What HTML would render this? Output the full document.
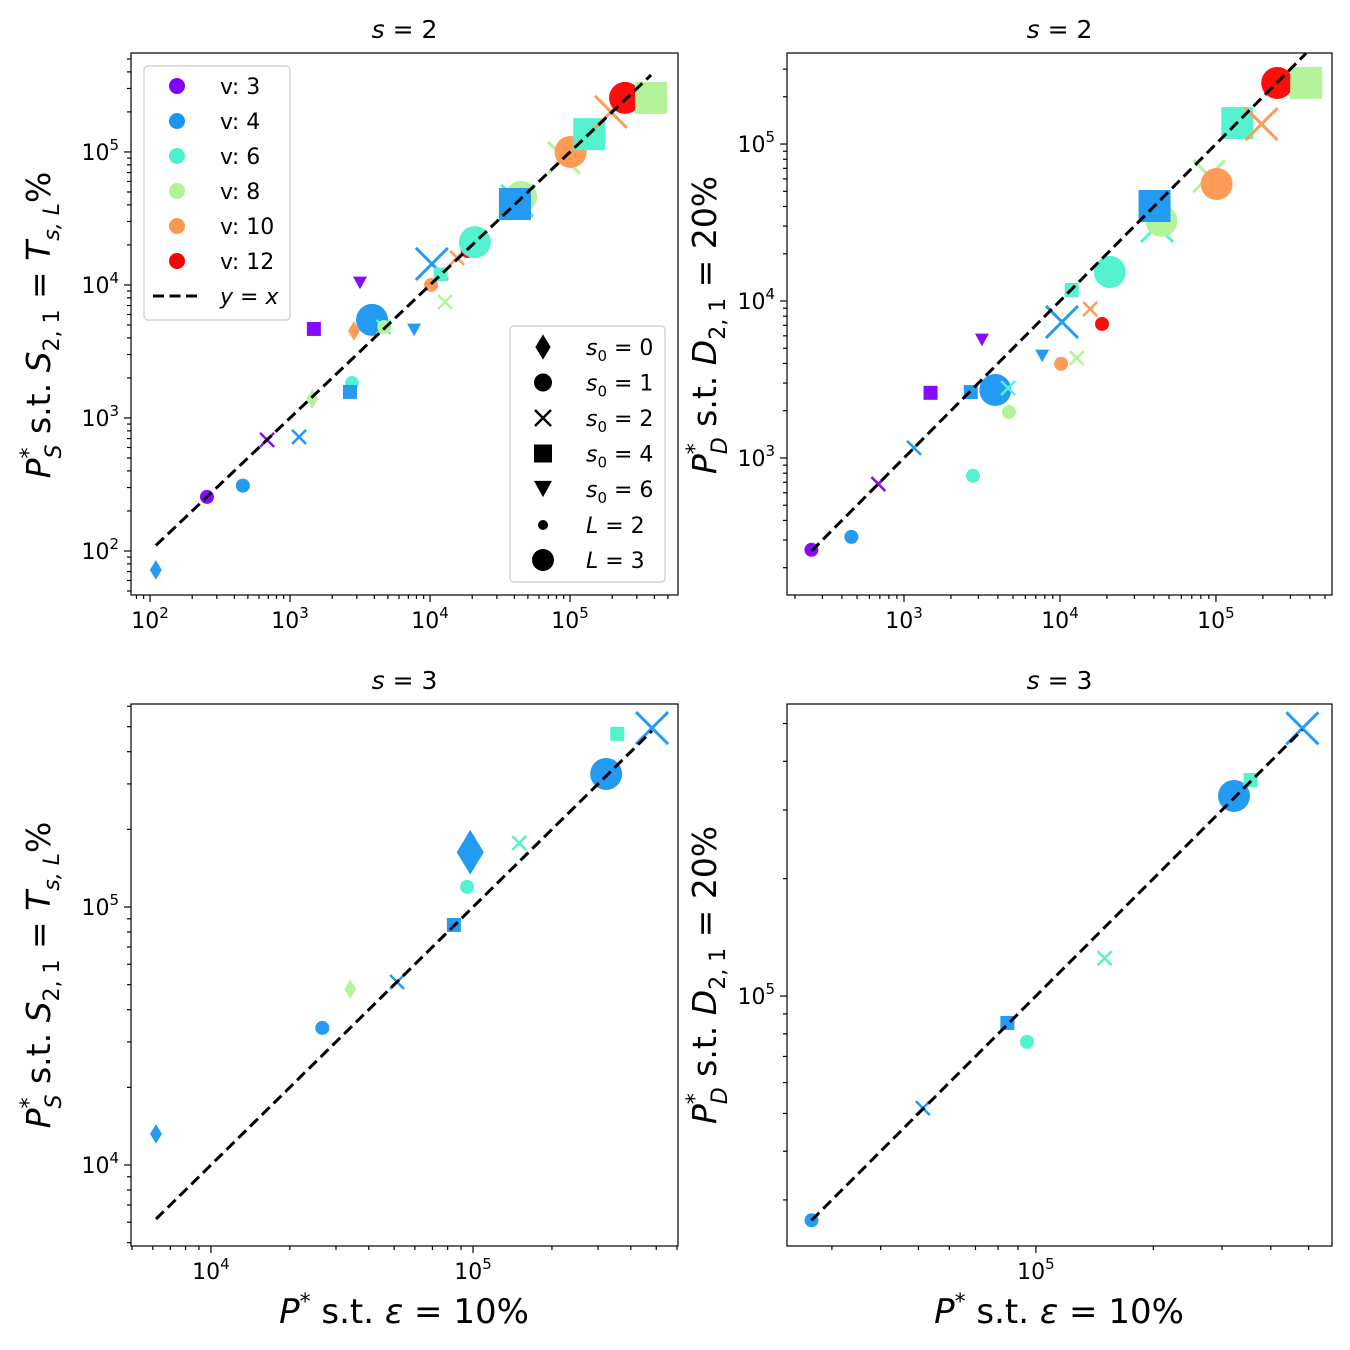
<!DOCTYPE html>
<html><head><meta charset="utf-8">
<style>
html,body{margin:0;padding:0;background:#fff;}
svg{display:block;font-family:"DejaVu Sans","Liberation Sans",sans-serif;}
</style></head>
<body>
<svg id="chart" width="1350" height="1350" viewBox="0 0 1350 1350" xmlns="http://www.w3.org/2000/svg">
</svg>
<script>
// ---- data: s = 2 ----
const s2_v      = [4,3,4,3,4,8,6,4,3,10,3,4,6,8,4,10,4,6,10,8,12,6,6,8,4,8,10,6,10,12,8];
const s2_shape  = ['d','o','o','x','x','d','o','s','s','d','v','o','x','o','v','o','x','s','x','x','o','o','x','o','s','x','o','s','x','o','s'];
const s2_L      = [2,2,2,2,2,2,2,2,2,2,2,3,2,2,2,2,3,2,2,2,2,3,3,3,3,3,3,3,3,3,3];
const s2_x      = [110,255,460,685,1160,1440,2770,2680,1480,2860,3160,3850,4650,4710,7690,10170,10300,11900,15600,12800,18600,20900,41900,44700,40400,90600,101000,137000,196000,247000,379000];
const s2_yS     = [72,255,310,685,720,1390,1830,1570,4670,4510,10350,5460,4830,4830,4590,10000,14400,12000,16000,7450,18000,21000,43000,45900,40600,90200,100000,136000,200000,255000,255000];
const s2_yD     = [null,260,314,682,1160,null,770,2630,2600,null,5650,2710,2790,1960,4470,3980,7350,11750,8900,4330,7140,15300,30000,32400,40300,62500,55600,136000,134000,245000,245000];
// ---- data: s = 3 ----
const s3_v      = [4,4,8,4,4,6,4,6,4,6,4];
const s3_shape  = ['d','o','d','x','s','o','d','x','o','s','x'];
const s3_L      = [2,2,2,2,2,2,3,2,3,2,3];
const s3_x      = [6170,26600,34000,51300,84500,94900,97600,150000,322000,355000,482000];
const s3_yS     = [13200,34000,48100,51200,85200,119700,163000,177000,328000,469000,494000];
const s3_yD     = [null,26600,null,51600,85300,76300,null,125000,326000,358000,486000];
// legend
const vLevels   = [3,4,6,8,10,12];
const vColors   = ['#8000ff','#1996f3','#4cf2ce','#b2f396','#ff964f','#ff0000'];

const NS='http://www.w3.org/2000/svg';
const svg=document.getElementById('chart');
function mk(tag,attrs,parent){const e=document.createElementNS(NS,tag);for(const k in attrs)e.setAttribute(k,attrs[k]);(parent||svg).appendChild(e);return e;}
function colorOf(v){return vColors[vLevels.indexOf(v)];}

const panels=[
 {name:'panel-s2-S',px0:131,px1:678,py0:53,py1:595,lx0:1.864,lx1:5.771,ly0:1.669,ly1:5.744,xs:s2_x,ys:s2_yS,vs:s2_v,sh:s2_shape,Ls:s2_L,title:'2'},
 {name:'panel-s2-D',px0:787,px1:1332,py0:53,py1:595,lx0:2.25,lx1:5.744,ly0:2.127,ly1:5.58,xs:s2_x,ys:s2_yD,vs:s2_v,sh:s2_shape,Ls:s2_L,title:'2'},
 {name:'panel-s3-S',px0:131,px1:678,py0:704,py1:1246,lx0:3.695,lx1:5.782,ly0:3.686,ly1:5.787,xs:s3_x,ys:s3_yS,vs:s3_v,sh:s3_shape,Ls:s3_L,title:'3'},
 {name:'panel-s3-D',px0:787,px1:1332,py0:704,py1:1246,lx0:4.362,lx1:5.759,ly0:4.359,ly1:5.749,xs:s3_x,ys:s3_yD,vs:s3_v,sh:s3_shape,Ls:s3_L,title:'3'}
];

function drawMarker(g,shape,cx,cy,r,color){
  let e;
  if(shape==='o'){e=mk('circle',{cx:cx,cy:cy,r:r,fill:color},g);}
  else if(shape==='s'){e=mk('rect',{x:cx-r,y:cy-r,width:2*r,height:2*r,fill:color},g);}
  else if(shape==='d'){const w=r*0.85,h=r*1.4;e=mk('polygon',{points:`${cx},${cy-h} ${cx+w},${cy} ${cx},${cy+h} ${cx-w},${cy}`,fill:color},g);}
  else if(shape==='v'){const h=r*0.9;e=mk('polygon',{points:`${cx-r},${cy-h} ${cx+r},${cy-h} ${cx},${cy+h}`,fill:color},g);}
  else if(shape==='x'){e=mk('path',{d:`M${cx-r},${cy-r}L${cx+r},${cy+r}M${cx-r},${cy+r}L${cx+r},${cy-r}`,stroke:color,'stroke-width':r>10?3:2.5,fill:'none'},g);}
  return e;
}

panels.forEach((p)=>{
  const g=mk('g',{});
  
  
  const X=v=>p.px0+(Math.log10(v)-p.lx0)/(p.lx1-p.lx0)*(p.px1-p.px0);
  const Y=v=>p.py1-(Math.log10(v)-p.ly0)/(p.ly1-p.ly0)*(p.py1-p.py0);
  const t=mk('text',{x:(p.px0+p.px1)/2,y:p.py0-15,'text-anchor':'middle','font-size':25},g);
  t.innerHTML='<tspan font-style="italic">s</tspan> = '+p.title;
  
  
  const tg=mk('g',{stroke:'#000','stroke-width':1.2},g);
  for(let d=Math.floor(p.lx0);d<=Math.ceil(p.lx1);d++){
    for(let m=1;m<10;m++){
      const lv=d+Math.log10(m);
      if(lv<p.lx0||lv>p.lx1)continue;
      const x=X(Math.pow(10,lv));const len=m===1?7:4;
      mk('line',{x1:x,x2:x,y1:p.py1,y2:p.py1+len},tg);
      if(m===1){const tl=mk('text',{x:x,y:p.py1+33,'text-anchor':'middle','font-size':22,stroke:'none'},g);
        tl.innerHTML='10<tspan font-size="15" dy="-10">'+d+'</tspan>';
        
        }
    }
  }
  for(let d=Math.floor(p.ly0);d<=Math.ceil(p.ly1);d++){
    for(let m=1;m<10;m++){
      const lv=d+Math.log10(m);
      if(lv<p.ly0||lv>p.ly1)continue;
      const y=Y(Math.pow(10,lv));const len=m===1?7:4;
      mk('line',{x1:p.px0,x2:p.px0-len,y1:y,y2:y},tg);
      if(m===1){const tl=mk('text',{x:p.px0-12,y:y+8,'text-anchor':'end','font-size':22,stroke:'none'},g);
        tl.innerHTML='10<tspan font-size="15" dy="-10">'+d+'</tspan>';
        
        }
    }
  }
  const idx=[];for(let i=0;i<p.xs.length;i++){if(p.ys[i]!=null)idx.push(i);}
  let mn=Infinity,mx=-Infinity;idx.forEach(i=>{mn=Math.min(mn,p.xs[i]);mx=Math.max(mx,p.xs[i]);});
  const pg=mk('g',{opacity:0.95},g);
  idx.forEach(i=>{
    const r=p.Ls[i]===3?16:7;
    const e=drawMarker(pg,p.sh[i],X(p.xs[i]),Y(p.ys[i]),r,colorOf(p.vs[i]));
    
    
  });
  const ln=mk('line',{x1:X(mn),y1:Y(mn),x2:X(mx),y2:Y(mx),stroke:'#000','stroke-width':3,'stroke-dasharray':'11,5.5'},g);
  
  
  const fr=mk('rect',{x:p.px0,y:p.py0,width:p.px1-p.px0,height:p.py1-p.py0,fill:'none',stroke:'#000','stroke-width':1.2},g);
  
  
});

function addText(html,attrs,name){const e=mk('text',attrs);e.innerHTML=html;return e;}
const ylabS='<tspan font-style="italic">P</tspan><tspan font-size="22" dy="-14">*</tspan><tspan font-size="22" font-style="italic" dx="-11" dy="25">S</tspan><tspan dy="-11"> s.t. </tspan><tspan font-style="italic">S</tspan><tspan font-size="22" dy="9">2, 1</tspan><tspan dy="-9"> = </tspan><tspan font-style="italic">T</tspan><tspan font-size="22" font-style="italic" dy="9">s, L</tspan><tspan dy="-9">%</tspan>';
const ylabD='<tspan font-style="italic">P</tspan><tspan font-size="22" dy="-14">*</tspan><tspan font-size="22" font-style="italic" dx="-11" dy="25">D</tspan><tspan dy="-11"> s.t. </tspan><tspan font-style="italic">D</tspan><tspan font-size="22" dy="9">2, 1</tspan><tspan dy="-9"> = 20%</tspan>';
addText(ylabS,{x:0,y:0,transform:'translate(50,325) rotate(-90)','text-anchor':'middle','font-size':33},'y-axis-title-top-left');
addText(ylabD,{x:0,y:0,transform:'translate(716,325) rotate(-90)','text-anchor':'middle','font-size':33},'y-axis-title-top-right');
addText(ylabS,{x:0,y:0,transform:'translate(50,975) rotate(-90)','text-anchor':'middle','font-size':33},'y-axis-title-bottom-left');
addText(ylabD,{x:0,y:0,transform:'translate(716,975) rotate(-90)','text-anchor':'middle','font-size':33},'y-axis-title-bottom-right');
const xlab='<tspan font-style="italic">P</tspan><tspan font-size="22" dy="-14">*</tspan><tspan dy="14"> s.t. </tspan><tspan font-style="italic">ε</tspan> = 10%';
addText(xlab,{x:404,y:1323,'text-anchor':'middle','font-size':34},'x-axis-title-left');
addText(xlab,{x:1059,y:1323,'text-anchor':'middle','font-size':34},'x-axis-title-right');

const lg=mk('g',{});


mk('rect',{x:144,y:66,width:146,height:254,rx:4,fill:'#fff','fill-opacity':0.8,stroke:'#ccc','stroke-width':1.2},lg);
vLevels.forEach((v,i)=>{
  const y=86+i*35;
  const c=mk('circle',{cx:177,cy:y,r:8,fill:vColors[i]},lg);
  
  
  const t=mk('text',{x:220,y:y+8,'font-size':22},lg);t.textContent='v: '+v;
  
  
});
mk('line',{x1:153,x2:202,y1:296,y2:296,stroke:'#000','stroke-width':3,'stroke-dasharray':'11,5.5'},lg);
const ty=mk('text',{x:220,y:304,'font-size':22,'font-style':'italic'},lg);ty.textContent='y = x';

const sg=mk('g',{});


mk('rect',{x:510,y:326,width:155,height:256,rx:4,fill:'#fff','fill-opacity':0.8,stroke:'#ccc','stroke-width':1.2},sg);
const shapeItems=[['d','0'],['o','1'],['x','2'],['s','4'],['v','6']];
shapeItems.forEach((it,i)=>{
  const y=347+i*35.5;
  drawMarker(sg,it[0],543,y,it[0]==='o'?9:(it[0]==='x'?8:9),'#000');
  const t=mk('text',{x:586,y:y+8,'font-size':22},sg);
  t.innerHTML='<tspan font-style="italic">s</tspan><tspan font-size="15" dy="6">0</tspan><tspan dy="-6"> = '+it[1]+'</tspan>';
  
  
});
mk('circle',{cx:543,cy:525,r:5,fill:'#000'},sg);
mk('circle',{cx:543,cy:560,r:11,fill:'#000'},sg);
const tl2=mk('text',{x:586,y:533,'font-size':22},sg);tl2.innerHTML='<tspan font-style="italic">L</tspan> = 2';
const tl3=mk('text',{x:586,y:568,'font-size':22},sg);tl3.innerHTML='<tspan font-style="italic">L</tspan> = 3';
</script>
</body></html>
